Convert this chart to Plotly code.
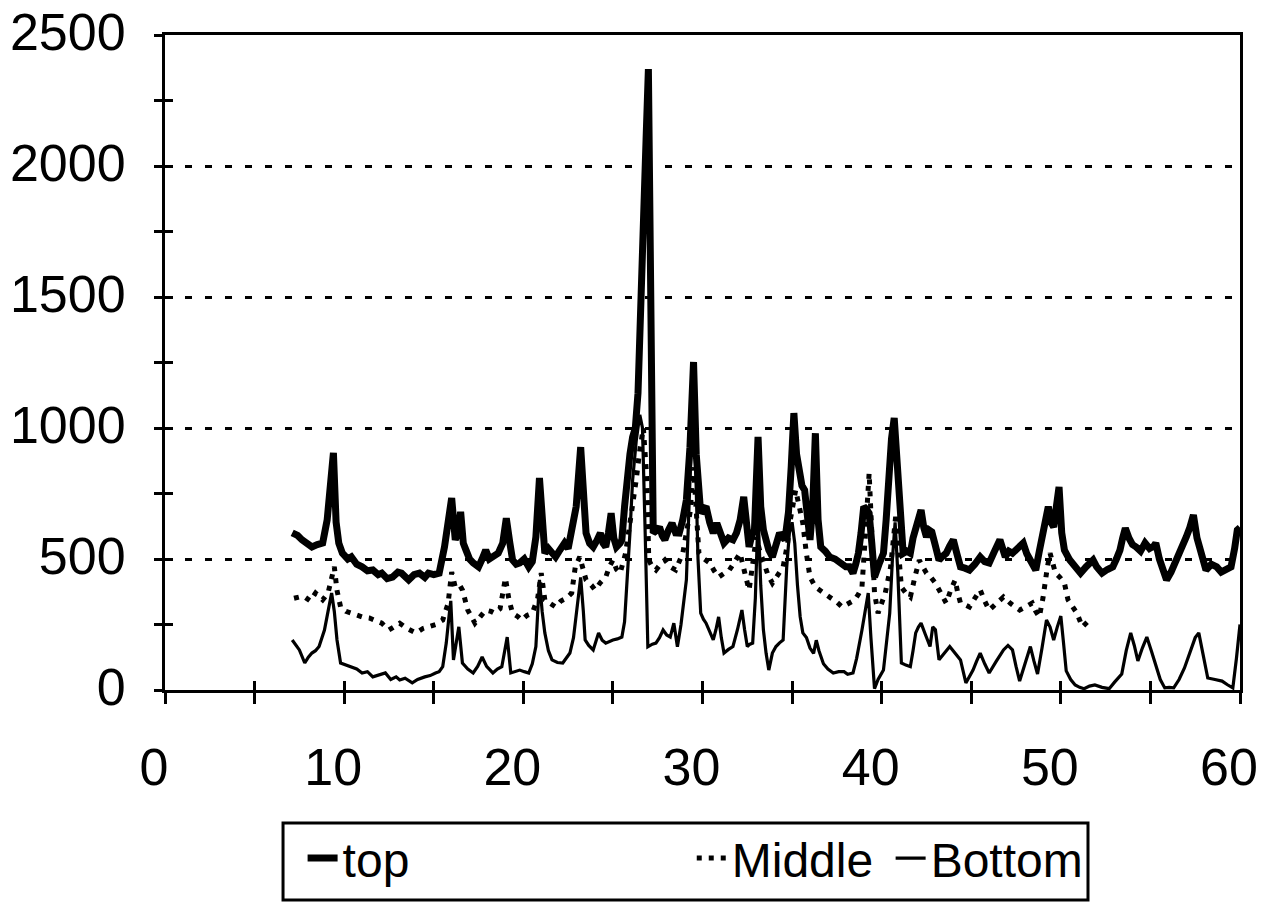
import plotly.graph_objects as go

# ---- series: 2-theta (deg) vs intensity ----
top_x = [7.1, 7.4, 7.65, 7.9, 8.2, 8.5, 8.8, 9.05, 9.25, 9.4, 9.55, 9.7, 9.9, 10.2, 10.4, 10.7,
         11.0, 11.3, 11.6, 11.9, 12.1, 12.4, 12.7, 13.0, 13.2, 13.4, 13.6, 13.9, 14.2, 14.5, 14.7,
         15.0, 15.3, 15.6, 15.85, 16.0, 16.2, 16.35, 16.5, 16.65, 16.8, 17.0, 17.2, 17.5, 17.7,
         17.9, 18.1, 18.3, 18.6, 18.85, 19.05, 19.25, 19.4, 19.6, 19.8, 20.05, 20.3, 20.5, 20.7,
         20.9, 21.05, 21.2, 21.4, 21.6, 21.8, 22.0, 22.3, 22.5, 22.7, 22.95, 23.2, 23.35, 23.5,
         23.7, 23.9, 24.1, 24.3, 24.45, 24.6, 24.75, 24.9, 25.05, 25.2, 25.4, 25.5, 25.65, 25.8,
         25.95, 26.1, 26.25, 26.4, 26.55, 26.7, 26.85, 26.98, 27.08, 27.15, 27.25, 27.45, 27.6,
         27.75, 27.9, 28.1, 28.3, 28.5, 28.7, 28.9, 29.1, 29.3, 29.5, 29.65, 29.75, 29.9, 30.05,
         30.2, 30.4, 30.6, 30.8, 31.0, 31.2, 31.45, 31.7, 31.9, 32.1, 32.3, 32.45, 32.6, 32.75,
         32.9, 33.1, 33.25, 33.4, 33.55, 33.7, 33.9, 34.1, 34.3, 34.6, 34.8, 34.95, 35.1, 35.25,
         35.4, 35.55, 35.7, 35.85, 36.0, 36.15, 36.3, 36.45, 36.6, 36.85, 37.1, 37.4, 37.7, 38.0,
         38.2, 38.4, 38.55, 38.7, 38.85, 39.0, 39.15, 39.3, 39.45, 39.6, 39.85, 40.1, 40.25, 40.4,
         40.55, 40.7, 40.85, 41.0, 41.2, 41.4, 41.6, 41.75, 41.9, 42.05, 42.2, 42.35, 42.5, 42.65,
         42.8, 43.0, 43.2, 43.4, 43.6, 43.8, 44.0, 44.2, 44.4, 44.65, 44.9, 45.2, 45.5, 45.75,
         46.0, 46.3, 46.6, 46.9, 47.1, 47.3, 47.6, 47.9, 48.1, 48.3, 48.6, 48.8, 49.0, 49.15,
         49.3, 49.45, 49.6, 49.75, 49.9, 50.05, 50.2, 50.5, 50.8, 51.1, 51.4, 51.8, 52.0, 52.3,
         52.6, 52.9, 53.1, 53.3, 53.45, 53.6, 53.8, 54.0, 54.2, 54.45, 54.7, 54.95, 55.2, 55.3,
         55.5, 55.7, 55.9, 56.15, 56.4, 56.7, 57.0, 57.2, 57.4, 57.6, 57.8, 58.1, 58.4, 58.7,
         58.95, 59.2, 59.5, 59.7, 59.85, 60.0]
top_y = [600, 590, 573, 560, 546, 555, 561, 649, 780, 905, 640, 560, 522, 500, 508, 480,
         470, 455, 458, 440, 446, 425, 431, 450, 446, 430, 420, 440, 446, 430, 446,
         440, 446, 546, 640, 733, 573, 600, 680, 560, 534, 500, 485, 470, 500,
         534, 500, 508, 522, 560, 656, 560, 496, 480, 485, 500, 470, 490, 584,
         809, 700, 522, 540, 520, 508, 530, 561, 540, 622, 700, 927, 700, 599,
         560, 546, 570, 599, 560, 546, 600, 675, 580, 546, 560, 573, 700, 828,
         900, 966, 1000, 1133, 1400, 1700, 2100, 2370, 1500, 927, 599, 610, 622,
         590, 573, 610, 637, 600, 599, 650, 725, 927, 1252, 900, 802, 675, 690,
         700, 640, 599, 637, 590, 561, 580, 573, 600, 649, 737, 620, 546, 590,
         611, 966, 700, 611, 560, 534, 508, 560, 599, 573, 680, 850, 1057, 900,
         813, 780, 763, 650, 573, 700, 980, 650, 546, 530, 508, 500, 485, 470,
         470, 446, 480, 522, 600, 700, 690, 675, 560, 431, 480, 522, 650, 866,
         960, 1038, 850, 700, 522, 530, 522, 580, 622, 660, 687, 620, 584, 610,
         603, 550, 496, 510, 522, 550, 573, 520, 470, 465, 458, 480, 508, 490,
         485, 530, 573, 508, 530, 522, 540, 561, 520, 496, 458, 530, 599, 660,
         700, 640, 622, 700, 775, 600, 534, 496, 470, 446, 470, 496, 470, 446,
         460, 470, 500, 534, 580, 618, 580, 555, 546, 530, 561, 540, 550, 561,
         500, 450, 420, 450, 485, 540, 584, 620, 668, 580, 522, 458, 480, 470,
         450, 458, 470, 540, 611, 620]

middle_x = [7.2, 7.5, 7.8, 8.1, 8.4, 8.8, 9.1, 9.3, 9.45, 9.6, 9.8, 10.1, 10.4, 10.7, 11.0,
            11.4, 11.7, 12.1, 12.5, 12.8, 13.1, 13.5, 14.0, 14.4, 14.7, 15.1, 15.5, 15.8, 16.0,
            16.2, 16.45, 16.6, 16.9, 17.1, 17.3, 17.6, 17.9, 18.2, 18.4, 18.7, 19.0, 19.2, 19.4,
            19.7, 19.9, 20.2, 20.5, 20.8, 21.0, 21.2, 21.5, 21.8, 22.1, 22.4, 22.7, 22.9, 23.15,
            23.4, 23.5, 23.8, 24.0, 24.3, 24.6, 24.8, 25.0, 25.2, 25.4, 25.7, 25.9, 26.1, 26.3,
            26.5, 26.7, 26.9, 27.0, 27.2, 27.4, 27.65, 27.9, 28.2, 28.5, 28.7, 28.9, 29.1, 29.3,
            29.5, 29.65, 29.8, 30.1, 30.4, 30.65, 30.9, 31.2, 31.5, 31.8, 32.1, 32.35, 32.6, 32.8,
            33.0, 33.2, 33.4, 33.65, 33.9, 34.2, 34.5, 34.75, 34.9, 35.2, 35.4, 35.6, 35.8, 36.0,
            36.3, 36.7, 37.1, 37.5, 37.8, 38.1, 38.5, 38.7, 38.9, 39.1, 39.3, 39.45, 39.6, 39.8,
            40.0, 40.2, 40.5, 40.8, 40.95, 41.1, 41.35, 41.6, 41.85, 42.1, 42.3, 42.5, 42.75, 43.0,
            43.3, 43.6, 43.85, 44.1, 44.25, 44.4, 44.65, 44.9, 45.2, 45.5, 45.75, 46.0, 46.4, 46.8,
            47.2, 47.7, 48.1, 48.4, 48.6, 48.8, 49.0, 49.1, 49.25, 49.4, 49.55, 49.7, 49.95, 50.2,
            50.4, 50.65, 50.9, 51.2, 51.45, 51.7]
middle_y = [350, 355, 355, 340, 370, 344, 370, 430, 470, 380, 317, 300, 293, 285, 279,
            275, 267, 255, 229, 245, 255, 235, 218, 235, 241, 250, 267, 330, 450,
            393, 400, 382, 305, 280, 255, 280, 305, 300, 293, 310, 427, 344, 293,
            280, 267, 285, 293, 350, 446, 344, 330, 317, 340, 350, 370, 470, 508,
            440, 420, 400, 382, 410, 431, 470, 496, 460, 446, 520, 611, 700, 802,
            916, 1000, 800, 496, 470, 458, 480, 496, 470, 458, 490, 522, 600, 675,
            850, 650, 522, 500, 485, 455, 431, 445, 458, 490, 522, 450, 382, 480,
            584, 530, 485, 440, 408, 440, 470, 560, 649, 763, 700, 637, 520, 431,
            393, 375, 355, 335, 317, 330, 344, 365, 393, 600, 828, 600, 370, 293,
            330, 370, 470, 675, 520, 393, 370, 355, 430, 496, 470, 446, 430, 408,
            370, 332, 380, 420, 370, 332, 325, 317, 350, 382, 340, 305, 330, 355,
            330, 305, 320, 332, 300, 279, 350, 408, 470, 522, 480, 446, 430, 408,
            344, 320, 293, 241, 260, 274]

bottom_x = [7.1, 7.3, 7.5, 7.8, 8.0, 8.2, 8.4, 8.6, 8.9, 9.1, 9.3, 9.45, 9.6, 9.8, 10.1, 10.4,
            10.7, 11.0, 11.3, 11.6, 12.0, 12.3, 12.6, 12.9, 13.1, 13.4, 13.8, 14.1, 14.5, 14.8,
            15.1, 15.3, 15.5, 15.7, 15.85, 15.95, 16.1, 16.25, 16.4, 16.6, 16.9, 17.2, 17.45,
            17.7, 17.95, 18.3, 18.55, 18.8, 18.95, 19.1, 19.3, 19.55, 19.8, 20.05, 20.3, 20.5,
            20.7, 20.9, 21.05, 21.2, 21.4, 21.6, 21.9, 22.2, 22.4, 22.6, 22.8, 22.95, 23.2, 23.35,
            23.45, 23.65, 23.9, 24.2, 24.4, 24.6, 24.8, 25.0, 25.25, 25.5, 25.65, 25.8, 25.95,
            26.1, 26.3, 26.5, 26.65, 26.8, 26.95, 27.2, 27.4, 27.6, 27.8, 28.0, 28.2, 28.4, 28.6,
            28.8, 29.0, 29.1, 29.3, 29.45, 29.6, 29.75, 29.9, 30.05, 30.2, 30.4, 30.6, 30.75,
            30.9, 31.05, 31.2, 31.45, 31.7, 31.95, 32.2, 32.35, 32.5, 32.65, 32.8, 32.95, 33.1,
            33.25, 33.4, 33.55, 33.7, 33.9, 34.1, 34.3, 34.5, 34.7, 34.85, 35.0, 35.15, 35.3,
            35.45, 35.6, 35.8, 36.0, 36.2, 36.35, 36.5, 36.75, 37.0, 37.3, 37.6, 37.9, 38.1,
            38.4, 38.6, 38.9, 39.1, 39.25, 39.4, 39.6, 39.8, 40.1, 40.3, 40.45, 40.6, 40.75,
            40.9, 41.1, 41.35, 41.6, 41.75, 41.9, 42.05, 42.2, 42.45, 42.7, 42.85, 43.0, 43.2,
            43.5, 43.8, 44.1, 44.4, 44.7, 44.9, 45.1, 45.3, 45.5, 45.75, 46.0, 46.4, 46.8, 47.05,
            47.3, 47.5, 47.7, 48.0, 48.3, 48.5, 48.7, 48.95, 49.2, 49.4, 49.6, 49.8, 50.0, 50.15,
            50.3, 50.55, 50.8, 51.05, 51.3, 51.6, 51.9, 52.3, 52.7, 53.0, 53.4, 53.65, 53.9, 54.1,
            54.3, 54.55, 54.8, 55.05, 55.3, 55.55, 55.8, 56.05, 56.3, 56.6, 56.9, 57.2, 57.5,
            57.7, 57.95, 58.2, 58.6, 59.0, 59.3, 59.6, 59.8, 60.0]
bottom_y = [191, 170, 153, 103, 125, 141, 150, 166, 229, 300, 370, 300, 191, 103, 95, 89,
            80, 65, 70, 50, 60, 65, 40, 50, 38, 45, 27, 40, 50, 55,
            65, 70, 89, 180, 280, 340, 115, 180, 241, 103, 80, 65, 90,
            126, 90, 65, 80, 89, 150, 202, 65, 70, 76, 70, 65, 100,
            166, 420, 300, 218, 150, 115, 105, 103, 120, 141, 200, 293, 430, 300,
            191, 170, 153, 218, 190, 179, 185, 191, 195, 202, 260, 420, 600,
            802, 950, 1050, 1000, 600, 165, 175, 179, 200, 229, 210, 202, 255, 165,
            250, 380, 420, 802, 1100, 900, 500, 293, 270, 255, 220, 191, 230,
            279, 200, 141, 155, 166, 230, 305, 230, 166, 175, 179, 350, 675,
            400, 229, 140, 76, 141, 166, 180, 191, 469, 600, 640, 560, 400,
            280, 218, 200, 160, 140, 190, 150, 100, 80, 65, 70, 70, 60,
            65, 120, 229, 320, 370, 200, 5, 40, 76, 200, 293, 500, 640,
            450, 103, 95, 89, 150, 218, 240, 255, 210, 166, 241, 230, 115,
            140, 166, 140, 115, 27, 50, 76, 110, 141, 100, 65, 110, 153, 170,
            153, 90, 34, 100, 166, 110, 61, 160, 267, 240, 191, 240, 282, 180,
            73, 40, 19, 10, 5, 15, 19, 10, 5, 30, 61, 150, 218, 170,
            111, 160, 202, 150, 99, 40, 8, 10, 8, 40, 84, 140, 200,
            218, 130, 46, 40, 34, 20, 8, 120, 250]

# ---- axis ticks ----
x_tick_vals = [0, 10, 20, 30, 40, 50, 60]
x_tick_text = ["0", "10", "20", "30", "40", "50", "60"]
y_tick_vals = [0, 500, 1000, 1500, 2000, 2500]
y_tick_text = ["0", "500", "1000", "1500", "2000", "2500"]

TICK_FONT = dict(family="Liberation Sans, Arial, sans-serif", size=52, color="black")
LEG_FONT = dict(family="Liberation Sans, Arial, sans-serif", size=48, color="black")

fig = go.Figure()

fig.add_trace(go.Scatter(x=bottom_x, y=bottom_y, mode="lines", name="Bottom",
                         line=dict(color="black", width=3.2), legend="legend3"))
fig.add_trace(go.Scatter(x=middle_x, y=middle_y, mode="lines", name="Middle",
                         line=dict(color="black", width=5, dash="5px,7px"), legend="legend2"))
fig.add_trace(go.Scatter(x=top_x, y=top_y, mode="lines", name="top",
                         line=dict(color="black", width=7), legend="legend"))

# overlay axes that carry the inner half of the crossing tick marks
fig.add_trace(go.Scatter(x=[None], y=[None], xaxis="x2", yaxis="y2", showlegend=False))

legend_common = dict(orientation="h", font=LEG_FONT, bgcolor="rgba(0,0,0,0)",
                     borderwidth=0, yanchor="middle", xanchor="left", y=-0.257,
                     itemwidth=30)

fig.update_layout(
    width=1261, height=905,
    margin=dict(l=165, r=21, t=35, b=215, autoexpand=False),
    paper_bgcolor="white", plot_bgcolor="white",
    showlegend=True,
    legend=dict(x=0.128, **legend_common),
    legend2=dict(x=0.49, **legend_common),
    legend3=dict(x=0.675, **legend_common),
    xaxis=dict(range=[0, 60], tickvals=x_tick_vals, ticktext=x_tick_text,
               ticks="outside", ticklen=11, tickwidth=3, tickcolor="black",
               minor=dict(dtick=5, ticks="outside", ticklen=11, tickwidth=3, tickcolor="black"),
               showline=True, linewidth=3, linecolor="black", mirror=True,
               showgrid=False, zeroline=False, tickfont=TICK_FONT, automargin=False,
               ticklabelstandoff=19, ticklabelshift=-11, ticklabeloverflow="allow"),
    yaxis=dict(range=[0, 2500], tickvals=y_tick_vals, ticktext=y_tick_text,
               ticks="outside", ticklen=8, tickwidth=3, tickcolor="black",
               minor=dict(dtick=250, ticks="outside", ticklen=8, tickwidth=3, tickcolor="black",
                          showgrid=False),
               showline=True, linewidth=3, linecolor="black", mirror=True,
               showgrid=True, gridcolor="black", gridwidth=3, griddash="7px,13px",
               zeroline=False, tickfont=TICK_FONT, ticklabelstandoff=18,
               ticklabelshift=-3, automargin=False),
    xaxis2=dict(range=[0, 60], overlaying="x", anchor="y", side="bottom", dtick=5,
                ticks="inside", ticklen=9, tickwidth=3, tickcolor="black", automargin=False,
                showticklabels=False, showgrid=False, showline=False, zeroline=False),
    yaxis2=dict(range=[0, 2500], overlaying="y", anchor="x", side="left", dtick=250,
                ticks="inside", ticklen=8, tickwidth=3, tickcolor="black", automargin=False,
                showticklabels=False, showgrid=False, showline=False, zeroline=False),
    shapes=[dict(type="rect", xref="paper", yref="paper",
                 x0=0.1098, x1=0.8586, y0=-0.3206, y1=-0.203,
                 line=dict(color="black", width=3), fillcolor="rgba(0,0,0,0)")],
)

fig.write_html("out.html")
